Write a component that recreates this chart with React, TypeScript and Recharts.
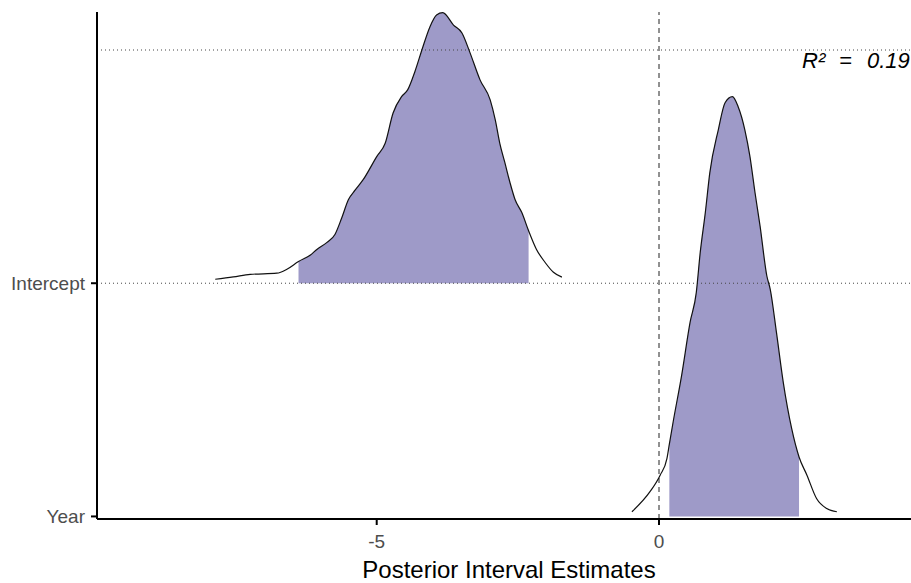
import {
  ComposedChart, Area, Line, XAxis, YAxis, ReferenceLine
} from 'recharts'

// parameter rows, bottom to top
const PARAMS = ['Year', 'Intercept']
const X_TICKS = [-5, 0]

// Intercept posterior density (x, height)
const INTERCEPT_X = [
  -7.86, -7.54, -7.24, -6.77, -6.59, -6.385, -6.18, -6.06, -5.88, -5.74,
  -5.62, -5.5, -5.38, -5.24, -5.0, -4.85, -4.71, -4.56, -4.45, -4.32,
  -4.2, -4.06, -3.94, -3.83, -3.64, -3.49, -3.35, -3.17, -2.99, -2.9,
  -2.82, -2.73, -2.64, -2.55, -2.43, -2.31, -2.17, -2.02, -1.87, -1.72
]
const INTERCEPT_DENSITY = [
  0.017, 0.027, 0.038, 0.043, 0.06, 0.093, 0.12, 0.145, 0.175, 0.209,
  0.28, 0.359, 0.4, 0.444, 0.543, 0.6, 0.73, 0.8, 0.83, 0.91,
  1.0, 1.098, 1.15, 1.16, 1.107, 1.073, 0.99, 0.872, 0.786, 0.7,
  0.6, 0.517, 0.432, 0.359, 0.303, 0.225, 0.145, 0.09, 0.047, 0.026
]
const INTERCEPT_INTERVAL = [-6.385, -2.31]

// Year posterior density
const YEAR_X = [
  -0.48, -0.16, 0.02, 0.14, 0.183, 0.25, 0.4, 0.55, 0.66, 0.73,
  0.82, 0.9, 1.05, 1.17, 1.3, 1.4, 1.52, 1.61, 1.7, 1.79,
  1.91, 1.97, 2.08, 2.2, 2.35, 2.48, 2.62, 2.79, 2.97, 3.15
]
const YEAR_DENSITY = [
  0.02, 0.106, 0.177, 0.248, 0.31, 0.405, 0.604, 0.832, 0.96, 1.132,
  1.303, 1.474, 1.658, 1.774, 1.8, 1.758, 1.658, 1.544, 1.389, 1.245,
  1.031, 0.974, 0.789, 0.576, 0.376, 0.255, 0.177, 0.077, 0.034, 0.02
]
const YEAR_INTERVAL = [0.183, 2.48]

const R2_TEXT = '0.19'

const FILL = '#9e9ac8'
const FONT = '"Liberation Sans", Arial, Helvetica, sans-serif'

function buildRows(xs: number[], ds: number[], base: number) {
  return xs.map((x, i) => ({ x, y: base + ds[i] }))
}

function inInterval(rows: { x: number; y: number }[], iv: number[]) {
  return rows.filter(r => r.x >= iv[0] - 1e-9 && r.x <= iv[1] + 1e-9)
}

const interceptRows = buildRows(INTERCEPT_X, INTERCEPT_DENSITY, 1)
const yearRows = buildRows(YEAR_X, YEAR_DENSITY, 0)
const interceptFill = inInterval(interceptRows, INTERCEPT_INTERVAL)
const yearFill = inInterval(yearRows, YEAR_INTERVAL)

function renderR2(props: any) {
  const vb = props.viewBox || {}
  const right = (vb.x ?? 0) + (vb.width ?? 0)
  const y = (vb.y ?? 0) + 18
  return (
    <text y={y} fill="#000" fontStyle="italic" fontSize={22} fontFamily={FONT}>
      <tspan x={right - 109}>R²</tspan>
      <tspan x={right - 72}>=</tspan>
      <tspan x={right - 44}>{R2_TEXT}</tspan>
    </text>
  )
}

export default function App() {
  return (
    <div style={{ position: 'absolute', left: 0, top: 0, width: 911, height: 583, background: '#fff', fontFamily: FONT }}>
      <ComposedChart width={911} height={583} margin={{ top: 12, right: 0, bottom: 0, left: 0 }}>
        <XAxis
          type="number"
          dataKey="x"
          domain={[-9.954, 4.463]}
          ticks={X_TICKS}
          allowDataOverflow
          height={64}
          tickSize={6}
          tickMargin={10}
          axisLine={{ stroke: '#000', strokeWidth: 2 }}
          tickLine={{ stroke: '#000', strokeWidth: 2 }}
          tick={{ fill: '#4d4d4d', fontSize: 19 }}
          label={{ value: 'Posterior Interval Estimates', position: 'insideBottom', offset: 5, dx: 5, fill: '#000', fontSize: 24 }}
        />
        <YAxis
          type="number"
          domain={[-0.011, 2.163]}
          ticks={[0, 1]}
          allowDataOverflow
          width={97}
          tickSize={6}
          tickMargin={6}
          tickFormatter={(v: number) => PARAMS[v] ?? ''}
          axisLine={{ stroke: '#000', strokeWidth: 2 }}
          tickLine={{ stroke: '#000', strokeWidth: 2 }}
          tick={{ fill: '#4d4d4d', fontSize: 19 }}
        />
        <Area
          data={interceptFill}
          dataKey="y"
          type="monotone"
          baseValue={1}
          stroke="none"
          fill={FILL}
          fillOpacity={1}
          isAnimationActive={false}
        />
        <Area
          data={yearFill}
          dataKey="y"
          type="monotone"
          baseValue={0}
          stroke="none"
          fill={FILL}
          fillOpacity={1}
          isAnimationActive={false}
        />
        <ReferenceLine y={1} stroke="#444" strokeDasharray="1 3" />
        <ReferenceLine y={2} stroke="#444" strokeDasharray="1 3" label={{ content: renderR2 }} />
        <ReferenceLine x={0} stroke="#222" strokeDasharray="5 4" />
        <Line
          data={interceptRows}
          dataKey="y"
          type="monotone"
          stroke="#111"
          strokeWidth={1.2}
          dot={false}
          activeDot={false}
          isAnimationActive={false}
        />
        <Line
          data={yearRows}
          dataKey="y"
          type="monotone"
          stroke="#111"
          strokeWidth={1.2}
          dot={false}
          activeDot={false}
          isAnimationActive={false}
        />
      </ComposedChart>
    </div>
  )
}
